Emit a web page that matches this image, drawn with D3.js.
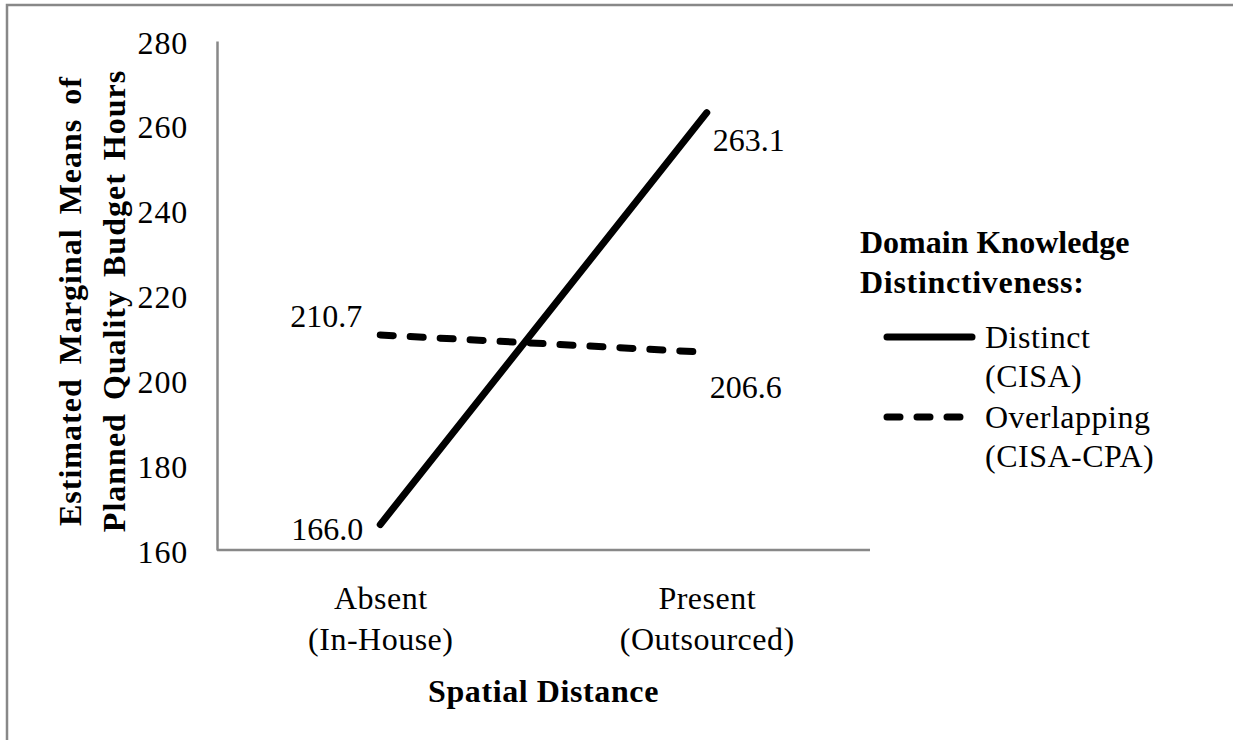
<!DOCTYPE html>
<html>
<head>
<meta charset="utf-8">
<script src="https://cdn.jsdelivr.net/npm/d3@7"></script>
<style>
  html, body { margin: 0; padding: 0; background: #fff; }
  svg { display: block; }
  text { font-family: "Liberation Serif", "Times New Roman", serif; fill: #000; }
</style>
</head>
<body>
<svg id="chart" width="1233" height="740"></svg>
<script>
// ---- data ----
const categories = ["Absent|(In-House)", "Present|(Outsourced)"];
const seriesNames = ["Distinct|(CISA)", "Overlapping|(CISA-CPA)"];
const distinctValues = [166.0, 263.1];
const overlappingValues = [210.7, 206.6];
const yTicks = [160, 180, 200, 220, 240, 260, 280];
const yTitleLines = ["Estimated  Marginal  Means  of", "Planned Quality Budget Hours"];
const xTitle = "Spatial  Distance";
const legendTitleLines = ["Domain  Knowledge", "Distinctiveness:"];

const series = [
  { name: seriesNames[0], values: distinctValues, dash: null },
  { name: seriesNames[1], values: overlappingValues, dash: "13,17" }
];

const svg = d3.select("#chart");
const W = 1233, H = 740;
const plot = { left: 217, right: 870, top: 41, bottom: 550 };
const axisColor = "#888888";

// outer border (extends beyond the picture on the right and bottom)
svg.append("rect")
  .attr("x", 7).attr("y", 5)
  .attr("width", W + 20).attr("height", H + 20)
  .attr("fill", "none").attr("stroke", axisColor).attr("stroke-width", 2.5);

const x = d3.scalePoint().domain(categories).range([plot.left, plot.right]).padding(0.5);
const y = d3.scaleLinear().domain([160, 280]).range([plot.bottom, plot.top]);

// y axis
const yAxis = svg.append("g")
  .attr("transform", `translate(${plot.left},0)`)
  .call(d3.axisLeft(y).tickValues(yTicks).tickSize(0).tickPadding(29).tickFormat(d3.format("d")));
yAxis.select(".domain").attr("stroke", axisColor).attr("stroke-width", 2.5);
yAxis.selectAll(".tick text")
  .attr("font-family", "Liberation Serif, Times New Roman, serif")
  .attr("font-size", 32).attr("fill", "#000")
  .attr("dy", null).attr("dominant-baseline", null)
  .attr("y", 12).attr("letter-spacing", 0.8);

// x axis
const xAxis = svg.append("g")
  .attr("transform", `translate(0,${plot.bottom})`)
  .call(d3.axisBottom(x).tickSize(0).tickFormat(""));
xAxis.select(".domain").attr("stroke", axisColor).attr("stroke-width", 2.5)
  .attr("d", `M${plot.left},0H${plot.right}`);
xAxis.selectAll(".tick").each(function(d) {
  const t = d3.select(this).select("text")
    .attr("font-family", "Liberation Serif, Times New Roman, serif")
    .attr("font-size", 32).attr("fill", "#000").attr("letter-spacing", 0.5)
    .attr("text-anchor", "middle").attr("dy", null).attr("y", null).text(null);
  d.split("|").forEach((line, i) => {
    t.append("tspan").attr("x", 0).attr("y", 59 + i * 41).text(line);
  });
});

// x title
svg.append("text")
  .attr("x", (plot.left + plot.right) / 2).attr("y", 702)
  .attr("text-anchor", "middle").attr("font-size", 32).attr("font-weight", "bold")
  .attr("letter-spacing", 0.6)
  .text(xTitle);

// y title
const yt = svg.append("text")
  .attr("transform", "translate(0,301) rotate(-90)")
  .attr("text-anchor", "middle").attr("font-size", 32).attr("font-weight", "bold");
yTitleLines.forEach((line, i) => {
  yt.append("tspan").attr("x", 0).attr("y", 81 + i * 44)
    .attr("letter-spacing", 1).attr("word-spacing", i === 0 ? 5 : 4)
    .text(line);
});

// lines
const lineGen = d3.line().x((d, i) => x(categories[i])).y(d => y(d));
series.forEach(s => {
  svg.append("path")
    .datum(s.values)
    .attr("d", lineGen)
    .attr("fill", "none").attr("stroke", "#000").attr("stroke-width", 7)
    .attr("stroke-linecap", "round")
    .attr("stroke-dasharray", s.dash);
});

// data labels
const labelFmt = d3.format(".1f");
const labelSpecs = [
  { v: distinctValues[0], cx: x(categories[0]), anchor: "end", dx: -17, dy: 15 },
  { v: distinctValues[1], cx: x(categories[1]), anchor: "start", dx: 6, dy: 38 },
  { v: overlappingValues[0], cx: x(categories[0]), anchor: "end", dx: -18, dy: -8 },
  { v: overlappingValues[1], cx: x(categories[1]), anchor: "start", dx: 3, dy: 46 }
];
labelSpecs.forEach(l => {
  svg.append("text")
    .attr("x", l.cx + l.dx).attr("y", y(l.v) + l.dy)
    .attr("text-anchor", l.anchor).attr("font-size", 32)
    .text(labelFmt(l.v));
});

// legend
const lg = svg.append("g");
legendTitleLines.forEach((line, i) => {
  lg.append("text").attr("x", 860).attr("y", 253 + i * 40)
    .attr("font-size", 32).attr("font-weight", "bold")
    .attr("letter-spacing", i === 1 ? 0.7 : 0)
    .text(line);
});
series.forEach((s, i) => {
  const ly = 337 + i * 80;
  lg.append("line")
    .attr("x1", 887).attr("x2", s.dash ? 962 : 972)
    .attr("y1", ly).attr("y2", ly)
    .attr("stroke", "#000").attr("stroke-width", 7)
    .attr("stroke-linecap", "round").attr("stroke-dasharray", s.dash);
  const t = lg.append("text").attr("font-size", 32).attr("letter-spacing", 0.5);
  s.name.split("|").forEach((line, j) => {
    t.append("tspan").attr("x", 985).attr("y", ly + 11 + j * 39).text(line);
  });
});
</script>
</body>
</html>
